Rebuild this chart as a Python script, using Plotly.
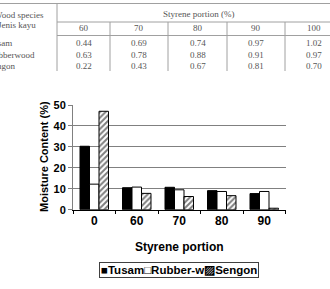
import plotly.graph_objects as go

# ---- chart data ----
categories = ["0", "60", "70", "80", "90"]
tusam = [30.3, 10.5, 10.7, 9.1, 7.7]
rubber = [12.2, 10.8, 9.5, 8.7, 8.7]
sengon = [47.0, 7.8, 6.3, 6.7, 0.7]
y_tick_vals = [0, 10, 20, 30, 40, 50]

# ---- table data (top of page) ----
table_cols = ["60", "70", "80", "90", "100"]
table_rows = ["Tusam", "Rubberwood", "Sengon"]
tbl_tusam = ["0.44", "0.69", "0.74", "0.97", "1.02"]
tbl_rubber = ["0.63", "0.78", "0.88", "0.91", "0.97"]
tbl_sengon = ["0.22", "0.43", "0.67", "0.81", "0.70"]
table_vals = [tbl_tusam, tbl_rubber, tbl_sengon]

W, H = 330, 289
def px(x):
    return x / W
def py(y):
    return 1 - y / H

fig = go.Figure()
line_style = dict(color="black", width=1)
fig.add_trace(go.Bar(x=categories, y=tusam, name="Tusam",
                     marker=dict(color="black", line=line_style)))
fig.add_trace(go.Bar(x=categories, y=rubber, name="Rubber-wood",
                     marker=dict(color="white", line=line_style)))
fig.add_trace(go.Bar(x=categories, y=sengon, name="Sengon",
                     marker=dict(color="white", line=line_style,
                                 pattern=dict(shape="/", fgcolor="black", bgcolor="white",
                                              size=4, solidity=0.5))))

bold = "Liberation Sans, Arial, sans-serif"
fig.update_layout(
    width=W, height=H,
    margin=dict(l=0, r=0, t=0, b=0),
    paper_bgcolor="white", plot_bgcolor="white",
    barmode="group", bargap=0.33, bargroupgap=0,
    showlegend=False,
    font=dict(family=bold, color="black"),
    xaxis=dict(domain=[px(73), px(285.5)], type="category",
               showline=True, linecolor="black", linewidth=1,
               ticks="outside", tickson="boundaries", ticklen=3, tickcolor="black",
               tickfont=dict(size=12, family=bold, weight="bold"),
               title=dict(text="<b>Styrene portion</b>", font=dict(size=12)),
               showgrid=False, automargin=False),
    yaxis=dict(domain=[py(209.7), py(105)], range=[0, 50],
               tickvals=y_tick_vals,
               showline=True, linecolor="#808080", linewidth=1,
               ticks="outside", ticklen=4, tickcolor="#808080",
               tickfont=dict(size=11, family=bold, weight="bold"),
               showgrid=True, gridcolor="#808080", gridwidth=1,
               zeroline=False, automargin=False),
)

# y-axis title, placed beside the tick labels
fig.add_annotation(xref="paper", yref="paper", x=px(44), y=py(157),
                   text="<b>Moisture Content (%)</b>", textangle=-90, showarrow=False,
                   font=dict(size=11, family=bold, color="black"),
                   xanchor="center", yanchor="middle")

# ---- legend drawn as a boxed text line ----
fig.add_annotation(xref="paper", yref="paper", x=px(179), y=py(270),
                   text="<b>■Tusam□Rubber-w▨Sengon</b>", showarrow=False,
                   font=dict(size=11.5, family=bold, color="black"),
                   bordercolor="#404040", borderwidth=1, borderpad=1,
                   xanchor="center", yanchor="middle")

# ---- table fragment at the top ----
tcol = "#a0a0a0"
serif = "Liberation Serif, Times New Roman, serif"
tfont = dict(size=9, family=serif, color="#555555")
col_edges = [57, 110, 168, 227, 285, 343]
shapes = []
def hline(y, x0, x1, c=tcol):
    shapes.append(dict(type="line", xref="paper", yref="paper", x0=px(x0), x1=px(x1),
                       y0=py(y), y1=py(y), line=dict(color=c, width=1)))
def vline(x, y0, y1):
    shapes.append(dict(type="line", xref="paper", yref="paper", x0=px(x), x1=px(x),
                       y0=py(y0), y1=py(y1), line=dict(color=tcol, width=1)))
hline(3.5, 0, 330)
hline(22, 57, 330)
hline(35.5, 57, 330)
vline(57, 3.5, 71)
for xe in col_edges[1:-1]:
    vline(xe, 22, 71)
fig.update_layout(shapes=shapes)

def txt(s, x, y, anchor="center"):
    fig.add_annotation(xref="paper", yref="paper", x=px(x), y=py(y), text=s,
                       showarrow=False, font=tfont, xanchor=anchor, yanchor="middle")

txt("Styrene portion (%)", 198, 14)
txt("Wood species", -8, 15, "left")
txt("Jenis kayu", -4, 25, "left")
row_y = [43, 54.5, 66]
for i, name in enumerate(table_rows):
    txt(name, -14, row_y[i], "left")
for j, c in enumerate(table_cols):
    cx = (col_edges[j] + col_edges[j + 1]) / 2
    txt(c, cx, 28.5)
    for i in range(len(table_rows)):
        txt(table_vals[i][j], cx, row_y[i])

fig.write_html("out.html")
